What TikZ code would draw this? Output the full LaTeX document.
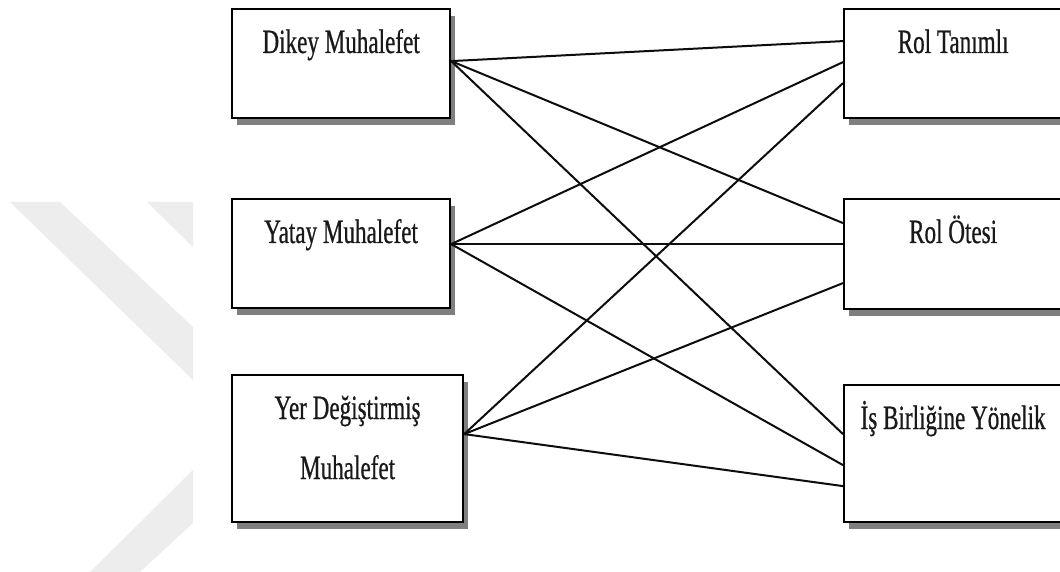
\documentclass[tikz,border=0pt]{standalone}
\usepackage{fontspec}
\setmainfont{Liberation Serif}
\newfontfamily\boxfont[FakeStretch=0.68,FakeBold=0.6]{Liberation Serif}
\usetikzlibrary{shadows,calc}
\definecolor{markgray}{HTML}{EDEDED}
\definecolor{shadegray}{HTML}{7F7F7F}
\begin{document}
\begin{tikzpicture}[x=1pt,y=-1pt,
  box/.style={draw=black, line width=2.2pt, fill=white, inner sep=0pt,
    anchor=north west, minimum width=218pt,
    drop shadow={shadow xshift=5pt, shadow yshift=-7pt, fill=shadegray, opacity=1}},
  caption/.style={font=\boxfont\fontsize{34}{60}\selectfont, anchor=base,
    inner sep=0pt, align=center, text=black!90},
  link/.style={line width=2pt, draw=black!95}]

\useasboundingbox (0,0) rectangle (1060,572);
\clip (0,0) rectangle (1060,572);
\fill[white] (0,0) rectangle (1060,572);

% light background bands on the left
\fill[markgray] (10,202) -- (60,202) -- (193,327) -- (193,380) -- cycle;
\fill[markgray] (147,202) -- (193,202) -- (193,247) -- cycle;
\fill[markgray] (193,470) -- (193,523) -- (140,572) -- (90,572) -- cycle;

% left column
\node[box, minimum height=109pt] (dikey) at (231,8) {};
\node[box, minimum height=109pt] (yatay) at (231,198) {};
\node[box, minimum height=147pt, minimum width=231pt] (yer) at (231,374) {};

% right column
\node[box, minimum height=109pt] (rtanim) at (843,8) {};
\node[box, minimum height=110pt] (rotesi) at (843,198) {};
\node[box, minimum height=137pt] (isbir) at (843,384) {};

% captions (a two-line caption sits on the baseline of its last line)
\node[caption] (dikeyT) at ($(dikey.north)+(0,45)$) {Dikey Muhalefet};
\node[caption] (yatayT) at ($(yatay.north)+(0,45)$) {Yatay Muhalefet};
\node[caption] (yerT) at ($(yer.north)+(0,105)$) {Yer Değiştirmiş\\Muhalefet};
\node[caption] (rtanimT) at ($(rtanim.north)+(0,45)$) {Rol Tanımlı};
\node[caption] (rotesiT) at ($(rotesi.north)+(0,45)$) {Rol Ötesi};
\node[caption] (isbirT) at ($(isbir.north)+(0,45)$) {İş Birliğine Yönelik};

% connection ports
\coordinate (d0) at ($(dikey.east)+(0,-2.5)$);
\coordinate (y0) at ($(yatay.east)+(0,-9.5)$);
\coordinate (m0) at ($(yer.east)+(0,-14.5)$);
\coordinate (t1) at ($(rtanim.west)+(0,-22.5)$);
\coordinate (t2) at ($(rtanim.west)+(0,-1.5)$);
\coordinate (t3) at ($(rtanim.west)+(0,19.5)$);
\coordinate (o1) at ($(rotesi.west)+(0,-31)$);
\coordinate (o2) at ($(rotesi.west)+(0,-10)$);
\coordinate (o3) at ($(rotesi.west)+(0,29)$);
\coordinate (b1) at ($(isbir.west)+(0,-19.5)$);
\coordinate (b2) at ($(isbir.west)+(0,11.5)$);
\coordinate (b3) at ($(isbir.west)+(0,32.5)$);

% connectors
\draw[link] (d0) -- (t1);
\draw[link] (d0) -- (o1);
\draw[link] (d0) -- (b1);
\draw[link] (y0) -- (t2);
\draw[link] (y0) -- (o2);
\draw[link] (y0) -- (b2);
\draw[link] (m0) -- (t3);
\draw[link] (m0) -- (o3);
\draw[link] (m0) -- (b3);
\end{tikzpicture}
\end{document}
